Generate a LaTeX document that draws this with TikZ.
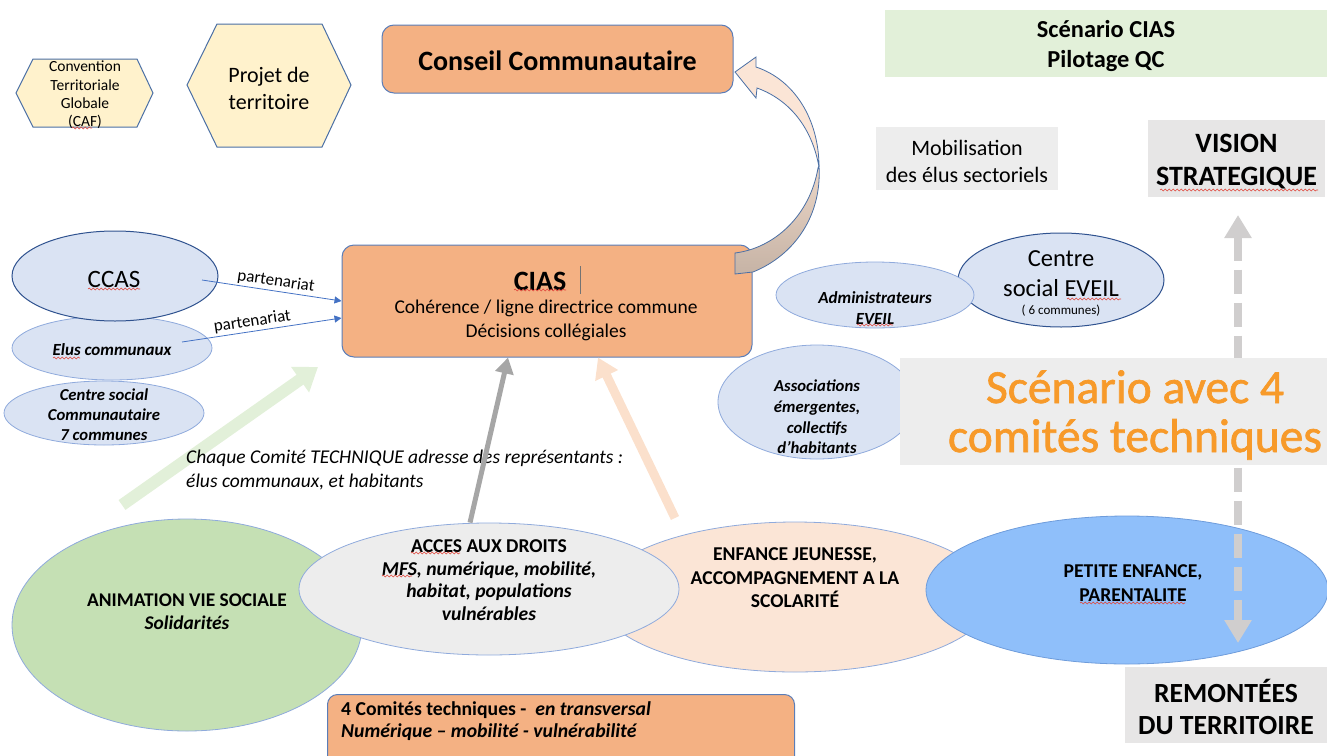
\documentclass[tikz,border=0pt]{standalone}
\usepackage{fontspec}
\setmainfont{Carlito}
\newfontfamily\heavyfont[FakeBold=1.4]{Carlito}
\usetikzlibrary{shapes.geometric,arrows.meta,calc,decorations.pathmorphing}

\definecolor{orangebox}{HTML}{F4B183}
\definecolor{boxline}{HTML}{5A7DB8}
\definecolor{ellfill}{HTML}{DAE3F3}
\definecolor{ellline}{HTML}{8FAADC}
\definecolor{elldark}{HTML}{2F528F}
\definecolor{hexfill}{HTML}{FFF2CC}
\definecolor{hexline}{HTML}{4A6FA5}
\definecolor{greenfill}{HTML}{C5E0B4}
\definecolor{greylight}{HTML}{EDEDED}
\definecolor{peach}{HTML}{FBE5D6}
\definecolor{petite}{HTML}{8FBFFA}
\definecolor{petiteline}{HTML}{6E9CDB}
\definecolor{labelgrey}{HTML}{E7E6E6}
\definecolor{scengreen}{HTML}{E2F0D9}
\definecolor{scenorange}{HTML}{F79A2A}
\definecolor{taupe}{HTML}{C6B3A5}
\definecolor{arrowgrey}{HTML}{A6A6A6}
\definecolor{dashgrey}{HTML}{D0CECE}
\definecolor{linkblue}{HTML}{4472C4}
\definecolor{greenarrow}{HTML}{E2F0D9}
\definecolor{peacharrow}{HTML}{FBE0CC}
\definecolor{spellred}{HTML}{E0453A}

\newcommand\fs[2]{\fontsize{#1}{#2}\selectfont}

\begin{document}
\begin{tikzpicture}[x=1pt,y=-1pt,
  oval/.style={ellipse, draw=ellline, fill=ellfill, line width=0.8pt, inner sep=0pt, align=center},
  ovaldark/.style={oval, draw=elldark, line width=1pt},
  orangebx/.style={rectangle, rounded corners=12pt, draw=boxline, fill=orangebox, line width=1pt, inner sep=0pt},
  greybx/.style={rectangle, fill=labelgrey, inner sep=0pt},
  txt/.style={align=center, inner sep=0pt},
  link/.style={draw=linkblue, line width=0.8pt, -{Triangle[width=7pt,length=7pt]}},
  squiggle/.style={draw=spellred, line width=0.6pt, decorate, decoration={snake, amplitude=0.9pt, segment length=4pt}}
]
\useasboundingbox (0,0) rectangle (1327,755);

% ---- hexagons ----
\filldraw[fill=hexfill, draw=hexline, line width=1pt]
  (16,93) -- (33,59) -- (137,59) -- (153,93) -- (137,127) -- (33,127) -- cycle;
\node[txt, font=\fs{15.5}{18.3}] (ctg) at (85,95) {Convention\\Territoriale\\Globale\\(CAF)};
\filldraw[fill=hexfill, draw=hexline, line width=1pt]
  (187,85) -- (217,24) -- (322,24) -- (351,85) -- (322,147) -- (217,147) -- cycle;
\node[txt, font=\fs{22}{27}] (projet) at (269,88) {Projet de\\territoire};

% ---- council and CIAS ----
\node[orangebx, minimum width=351, minimum height=68] (conseil) at (557.5,59) {};
\node[txt, font=\bfseries\fs{28}{32}] (conseiltxt) at (557.5,61) {Conseil Communautaire};

\node[orangebx, minimum width=410, minimum height=112] (cias) at (547,301) {};
\node[txt, font=\bfseries\fs{28}{32}] (ciastitle) at (540,281) {CIAS};
\draw[draw=black!55, line width=0.8pt] ($(ciastitle.east)+(14,-15)$) -- ($(ciastitle.east)+(14,13)$);
\node[txt, font=\fs{19.5}{24}] (ciastxt) at (546,320) {Cohérence / ligne directrice commune\\Décisions collégiales};

% curved arrow from CIAS to the council
\filldraw[fill=peach, draw=hexline, line width=0.8pt]
  (735,72) -- (756,57) -- (756,67) .. controls (795,80) and (819,120) .. (819,167)
  .. controls (812,128) and (790,100) .. (757,88) -- (756,98) -- cycle;
\shade[top color=peach!70!taupe, bottom color=taupe, draw=hexline, line width=0.8pt]
  (819,166) .. controls (822,215) and (795,255) .. (753,272) -- (735,274) -- (735,253)
  .. controls (775,248) and (810,215) .. (818,168) -- cycle;

% ---- left partners ----
\node[oval, minimum width=200, minimum height=64] (elus) at (112,348) {};
\node[ovaldark, minimum width=206, minimum height=90] (ccas) at (115,276) {};
\node[txt, font=\fs{25}{28}] (ccastxt) at (114,279) {CCAS};
\node[txt, font=\bfseries\itshape\fs{17}{20}] (elustxt) at (112,350) {Elus communaux};
\node[oval, minimum width=200, minimum height=64] (csc) at (104,413) {};
\node[txt, font=\bfseries\itshape\fs{16.7}{20}] (csctxt) at (104,415) {Centre social\\Communautaire\\7 communes};

\coordinate (p1) at (202,280);
\coordinate (p2) at (182,342);
\draw[link] (p1) -- (cias.west)
  node[pos=0.52, sloped, above=2pt, font=\fs{17}{18}, inner sep=0pt] (lab1) {partenariat};
\draw[link] (p2) -- ($(cias.west)+(0,17)$)
  node[pos=0.45, sloped, above=2pt, font=\fs{17}{18}, inner sep=0pt] (lab2) {partenariat};

% ---- right partners ----
\node[ovaldark, minimum width=206, minimum height=94] (eveil) at (1061,280) {};
\node[txt, font=\fs{24.5}{30}] (eveiltxt) at (1061,274) {Centre\\social EVEIL};
\node[txt, font=\fs{13}{14}] (eveilsub) at (1061,311) {( 6 communes)};
\node[oval, minimum width=198, minimum height=66] (admin) at (875,295) {};
\node[txt, font=\bfseries\itshape\fs{17}{21}] (admintxt) at (875,308) {Administrateurs\\EVEIL};
\node[oval, minimum width=198, minimum height=114] (assoc) at (817,402) {};
\node[txt, font=\bfseries\itshape\fs{16.7}{20.7}] (assoctxt) at (817,417) {Associations\\émergentes,\\collectifs\\d’habitants};

% ---- committees ----
\node[oval, fill=greenfill, minimum width=350, minimum height=212] (anim) at (187,625) {};
\node[oval, fill=peach, minimum width=394, minimum height=150] (enfance) at (795,597) {};
\node[oval, fill=greylight, minimum width=380, minimum height=132] (acces) at (489,589) {};
\node[oval, fill=petite, draw=petiteline, minimum width=402, minimum height=148] (petite) at (1127,590) {};

\node[txt, font=\bfseries\fs{19.4}{23}] (animtxt) at (187,612) {ANIMATION VIE SOCIALE\\\itshape Solidarités};
\node[txt, font=\bfseries\fs{19.6}{22.7}] (accestxt) at (489,580) {ACCES AUX DROITS\\\itshape MFS, numérique, mobilité,\\\itshape habitat, populations\\\itshape vulnérables};
\node[txt, font=\bfseries\fs{19.6}{23.5}] (enfancetxt) at (795,578) {ENFANCE JEUNESSE,\\ACCOMPAGNEMENT A LA\\SCOLARITÉ};
\node[txt, font=\bfseries\fs{19.6}{23.5}] (petitetxt) at (1133,583) {PETITE ENFANCE,\\PARENTALITE};

% ---- arrows from the committees to CIAS ----
\coordinate (gtail) at (122,505);
\coordinate (gtip) at (318,367);
\draw[greenarrow, line width=12pt, -{Triangle[width=30pt,length=22pt]}] (gtail) -- (gtip);

\node[txt, anchor=west, align=left, font=\itshape\fs{19.5}{24}] (chaque) at (186,470)
  {Chaque Comité TECHNIQUE adresse des représentants :\\élus communaux, et habitants};

\draw[arrowgrey, line width=5pt, -{Triangle[width=18pt,length=16pt]}] (acces.north -| 470,0) -- (cias.south -| 508,0);
\coordinate (ptail) at (675,518);
\draw[peacharrow, line width=9pt, -{Triangle[width=24pt,length=20pt]}] (ptail) -- (cias.south -| 598,0);

% ---- right-hand headings ----
\node[rectangle, fill=scengreen, minimum width=442, minimum height=67, inner sep=0pt] (scen) at (1106,43.5) {};
\node[txt, font=\bfseries\fs{24.4}{30}] (scentxt) at (1106,46) {Scénario CIAS\\Pilotage QC};
\node[greybx, fill=greylight, minimum width=182, minimum height=63] (mob) at (967,158.5) {};
\node[txt, font=\fs{22}{27}] (mobtxt) at (967,161) {Mobilisation\\des élus sectoriels};
\node[greybx, minimum width=177, minimum height=77] (vision) at (1236.5,158.5) {};
\node[txt, font=\bfseries\fs{28}{33}] (visiontxt) at (1236.5,162) {VISION\\STRATEGIQUE};
\node[greybx, minimum width=202, minimum height=76] (remont) at (1226,705) {};
\node[txt, font=\bfseries\fs{27.7}{32}] (remonttxt) at (1226,707) {REMONTÉES\\DU TERRITOIRE};

% double arrow between strategy and territory
\coordinate (dtop) at (1238,215);
\coordinate (dbot) at (1238,643);
\draw[dashgrey, line width=8pt, dash pattern=on 24pt off 9pt,
  {Triangle[width=26pt,length=23pt]}-{Triangle[width=26pt,length=23pt]}] (dtop) -- (dbot);

\node[rectangle, fill=greylight, minimum width=427, minimum height=107, inner sep=0pt] (scen4) at (1113.5,411.5) {};
\node[txt, text=scenorange, font=\heavyfont\fs{47.5}{49}] (scen4txt) at (1135,415) {Scénario avec 4\\comités techniques};

% ---- transversal box ----
\node[orangebx, rounded corners=10pt, minimum width=467, minimum height=80, anchor=north west] (transv) at (327,694) {};
\node[txt, anchor=west, align=left, font=\bfseries\fs{19.7}{22}] (transvtxt) at (341,721)
  {4 Comités techniques -\ \ \textit{en transversal}\\\textit{Numérique – mobilité - vulnérabilité}};

% ---- spelling marks under flagged words ----
\draw[squiggle] (72,128) -- (92,128);
\draw[squiggle] (514,290) -- (566,290);
\draw[squiggle] (88,289) -- (140,289);
\draw[squiggle] (53,358) -- (80,358);
\draw[squiggle] (857,325) -- (893,325);
\draw[squiggle] (1067,299) -- (1121,299);
\draw[squiggle] (1160,190) -- (1318,190);
\draw[squiggle] (1080,603) -- (1185,603);
\draw[squiggle] (411,553) -- (460,553);
\draw[squiggle] (382,576) -- (412,576);
\end{tikzpicture}
\end{document}
